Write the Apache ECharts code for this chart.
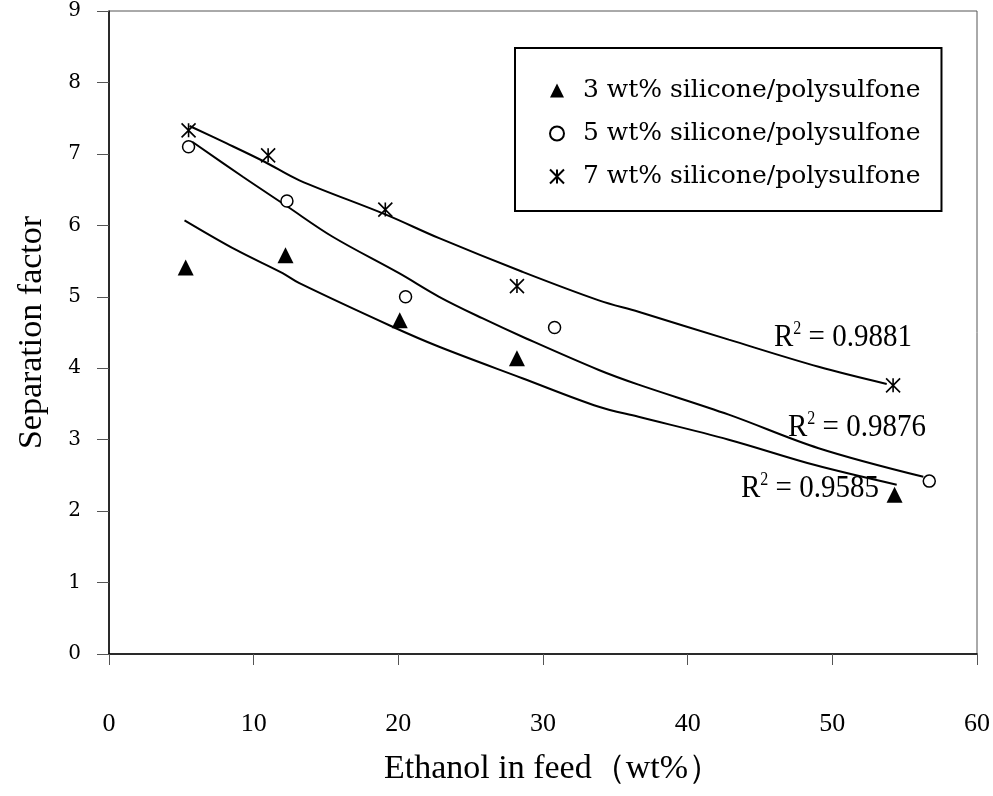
<!DOCTYPE html>
<html>
<head>
<meta charset="utf-8">
<script src="https://cdn.jsdelivr.net/npm/echarts@6/dist/echarts.min.js"></script>
<style>
  html, body { margin: 0; padding: 0; background: #fff; }
  #chart-container { width: 993px; height: 796px; }
</style>
</head>
<body>
<div id="chart-container"></div>
<script>
const names = ['3 wt% silicone/polysulfone', '5 wt% silicone/polysulfone', '7 wt% silicone/polysulfone'];

const ethanol3 = [5.3, 12.2, 20.1, 28.2, 54.3];
const sep3 = [5.41, 5.58, 4.67, 4.14, 2.23];
const ethanol5 = [5.5, 12.3, 20.5, 30.8, 56.7];
const sep5 = [7.10, 6.34, 5.00, 4.57, 2.42];
const ethanol7 = [5.5, 11.0, 19.1, 28.2, 54.2];
const sep7 = [7.33, 6.98, 6.22, 5.15, 3.76];

// Trend lines
const trend3X = [5.22, 8.79, 12.0, 13.16, 19.6, 22.82, 28.57, 33.86, 36.6, 42.84, 48.8, 54.45];
const trend3Y = [6.07, 5.655, 5.33, 5.19, 4.58, 4.30, 3.86, 3.46, 3.32, 3.0, 2.645, 2.37];
const trend5X = [5.75, 9.25, 12.28, 15.46, 20.05, 22.82, 25.8, 28.8, 33.86, 36.6, 42.84, 49.05, 56.29];
const trend5Y = [7.17, 6.68, 6.27, 5.84, 5.33, 5.0, 4.70, 4.42, 3.975, 3.77, 3.35, 2.88, 2.48];
const trend7X = [5.57, 8.1, 10.75, 13.16, 19.14, 22.82, 28.57, 33.86, 36.6, 42.84, 49.05, 53.76];
const trend7Y = [7.39, 7.15, 6.89, 6.63, 6.15, 5.82, 5.35, 4.95, 4.79, 4.40, 4.02, 3.78];

const r2Labels = ['0.9585', '0.9876', '0.9881'];

const asterisk = 'path://M0,0L10,10M10,0L0,10M5,0L5,10';

const zip = (xs, ys) => xs.map((x, i) => [x, ys[i]]);

const trendLine = (xs, ys) => ({
  type: 'line',
  data: zip(xs, ys),
  showSymbol: false,
  symbol: 'none',
  smooth: 0.35,
  silent: true,
  lineStyle: { color: '#000', width: 2 },
  z: 1
});

const r2Text = (val, x, y) => ({
  type: 'text',
  x: x,
  y: y,
  scaleY: 1.12,
  style: {
    text: '{a|R}{s|2}{a| = ' + val + '}',
    verticalAlign: 'middle',
    rich: {
      a: { fontFamily: 'Liberation Serif', fontSize: 29, fill: '#000', verticalAlign: 'bottom' },
      s: { fontFamily: 'Liberation Serif', fontSize: 16, fill: '#000', verticalAlign: 'top' }
    }
  }
});

const chartContainer = document.getElementById('chart-container');
const myChart = echarts.init(chartContainer);
myChart.setOption({
  animation: false,
  backgroundColor: '#fff',
  grid: {
    left: 109,
    right: 15,
    top: 11,
    bottom: 142,
    show: true,
    borderColor: '#555',
    borderWidth: 1
  },
  legend: {
    orient: 'vertical',
    left: 515,
    top: 48,
    padding: [30, 21, 22, 34],
    itemGap: 18,
    itemWidth: 14,
    itemHeight: 14,
    borderColor: '#000',
    borderWidth: 2,
    textStyle: { fontFamily: 'DejaVu Serif', fontSize: 25, color: '#000', padding: [0, 0, 0, 14] },
    data: names
  },
  xAxis: {
    type: 'value',
    min: 0,
    max: 60,
    interval: 10,
    name: 'Ethanol in feed（wt%）',
    nameLocation: 'middle',
    nameGap: 98,
    nameTextStyle: { fontFamily: 'Liberation Serif', fontSize: 34, color: '#000', padding: [0, 0, 0, 20] },
    splitLine: { show: false },
    axisLine: { onZero: false, lineStyle: { color: '#000', width: 1.5 } },
    axisTick: { length: 11, lineStyle: { color: '#555', width: 1 } },
    axisLabel: { margin: 57, fontFamily: 'Liberation Serif', fontSize: 26, color: '#000' }
  },
  yAxis: {
    type: 'value',
    min: 0,
    max: 9,
    interval: 1,
    name: 'Separation factor',
    nameLocation: 'middle',
    nameGap: 60,
    nameTextStyle: { fontFamily: 'Liberation Serif', fontSize: 34, color: '#000' },
    splitLine: { show: false },
    axisLine: { onZero: false, lineStyle: { color: '#000', width: 1.5 } },
    axisTick: { length: 12, lineStyle: { color: '#555', width: 1 } },
    axisLabel: { margin: 28, fontFamily: 'DejaVu Serif', fontSize: 20, color: '#000' }
  },
  graphic: [
    r2Text(r2Labels[2], 774, 337),
    r2Text(r2Labels[1], 788, 427),
    r2Text(r2Labels[0], 741, 488)
  ],
  series: [
    trendLine(trend3X, trend3Y),
    trendLine(trend5X, trend5Y),
    trendLine(trend7X, trend7Y),
    {
      name: names[0],
      type: 'scatter',
      data: zip(ethanol3, sep3),
      symbol: 'triangle',
      symbolSize: 16,
      itemStyle: { color: '#000', opacity: 1 },
      z: 3
    },
    {
      name: names[1],
      type: 'scatter',
      data: zip(ethanol5, sep5),
      symbol: 'circle',
      symbolSize: 12,
      itemStyle: { color: '#fff', borderColor: '#000', borderWidth: 1.5, opacity: 1 },
      z: 3
    },
    {
      name: names[2],
      type: 'scatter',
      data: zip(ethanol7, sep7),
      symbol: asterisk,
      symbolSize: 14,
      itemStyle: { color: '#000', borderColor: '#000', borderWidth: 1.6, opacity: 1 },
      z: 3
    }
  ]
});
</script>
</body>
</html>
